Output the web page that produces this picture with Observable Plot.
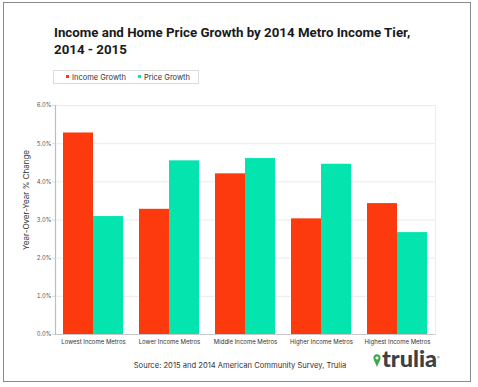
<!DOCTYPE html>
<html>
<head>
<meta charset="utf-8">
<script src="https://cdn.jsdelivr.net/npm/d3@7"></script>
<script src="https://cdn.jsdelivr.net/npm/@observablehq/plot@0.6"></script>
<style>
  html, body { margin: 0; padding: 0; background: #fff; }
  #page { position: relative; width: 478px; height: 387px; overflow: hidden; font-family: Inter, "Liberation Sans", sans-serif; }
  #border { position: absolute; left: 3px; top: 2px; width: 466px; height: 378px; border: 1.5px solid #8a8a8a; }
  #title { position: absolute; left: 54px; top: 25px; font-size: 13.3px; font-weight: 700; line-height: 16.5px; color: #1a1a1a; font-family: Roboto, sans-serif; white-space: nowrap; }
  #legend { position: absolute; left: 53px; top: 70px; width: 144px; height: 12px; border: 1px solid #dcdcdc; font-size: 7.5px; color: #333; }
  #legend .item { position: absolute; top: 1.5px; white-space: nowrap; }
  #legend .sw { display: inline-block; width: 3px; height: 3px; margin-right: 3px; vertical-align: 1.5px; }
  #chart { position: absolute; left: 0; top: 95px; }
  #source { position: absolute; left: 0; width: 480px; top: 361px; text-align: center; font-size: 7.6px; color: #333; }
  #logo { position: absolute; left: 373px; top: 349px; height: 26px; width: 80px; }
  #logo svg { position: absolute; left: 0; top: 4px; }
  #logo span { position: absolute; left: 9px; top: -5px; font-size: 23.5px; font-weight: 900; color: #3b4144; font-family: Lato, sans-serif; }
  #logo sup { position: absolute; left: 64px; top: 6px; font-size: 4px; color: #666; }
</style>
</head>
<body>
<div id="page">
  <div id="border"></div>
  <div id="title">Income and Home Price Growth by 2014 Metro Income Tier,<br>2014 - 2015</div>
  <div id="legend"></div>
  <div id="chart"></div>
  <div id="source">Source: 2015 and 2014 American Community Survey, Trulia</div>
  <div id="logo">
    <svg width="8" height="16" viewBox="0 0 9 16"><path d="M4.5 0.5 C2 0.5 0.5 2.3 0.5 4.6 C0.5 7.5 4.5 12.5 4.5 15.5 C4.5 12.5 8.5 7.5 8.5 4.6 C8.5 2.3 7 0.5 4.5 0.5 Z M4.5 2.8 A1.7 1.7 0 1 1 4.49 2.8 Z" fill="#3ba84a" fill-rule="evenodd"/></svg>
    <span>trulia</span><sup>®</sup>
  </div>
</div>
<script>
const categories = ["Lowest Income Metros", "Lower Income Metros", "Middle Income Metros", "Higher Income Metros", "Highest Income Metros"];
const seriesNames = ["Income Growth", "Price Growth"];
const incomeGrowth = [5.28, 3.28, 4.21, 3.03, 3.43];
const priceGrowth = [3.09, 4.55, 4.61, 4.46, 2.67];
const yTicks = [0, 1, 2, 3, 4, 5, 6];
const seriesColors = ["#fc3a0e", "#03e4ae"];
const yLabel = "Year-Over-Year % Change";

const rows = [];
categories.forEach((c, i) => {
  rows.push({category: c, series: seriesNames[0], value: incomeGrowth[i]});
  rows.push({category: c, series: seriesNames[1], value: priceGrowth[i]});
});

// legend
const legend = document.getElementById("legend");
const legendX = [12, 84];
seriesNames.forEach((s, i) => {
  const it = document.createElement("div");
  it.className = "item";
  it.style.left = legendX[i] + "px";
  it.innerHTML = `<span class="sw" style="background:${seriesColors[i]}"></span>${s}`;
  legend.appendChild(it);
});

const chart = Plot.plot({
  width: 478,
  height: 259,
  marginLeft: 54,
  marginRight: 42,
  marginTop: 10,
  marginBottom: 20,
  style: {fontFamily: "Inter, 'Liberation Sans', sans-serif", background: "transparent"},
  fx: {domain: categories, padding: 0, label: null},
  x: {domain: seriesNames, paddingInner: 0, paddingOuter: 0.245, axis: null},
  y: {domain: [0, 6], label: null},
  color: {domain: seriesNames, range: seriesColors},
  marks: [
    Plot.gridY(yTicks, {stroke: "#ebebeb", strokeOpacity: 1}),
    Plot.barY(rows, {fx: "category", x: "series", y: "value", fill: "series"}),
    Plot.ruleY([0], {stroke: "#c8c8c8"}),
    Plot.frame({anchor: "left", facetAnchor: "left", stroke: "#bdbdbd", strokeWidth: 1.2}),
    Plot.frame({anchor: "right", facetAnchor: "right", stroke: "#ececec"}),
    Plot.axisY(yTicks, {tickFormat: d => d.toFixed(1) + "%", tickSize: 3, tickPadding: 1, fontSize: 5.8, color: "#555", stroke: "#ddd", label: null}),
    Plot.axisFx({anchor: "bottom", tickSize: 0, tickPadding: 5, fontSize: 6, fill: "#333", label: null}),
    Plot.text([yLabel], {frameAnchor: "left", facetAnchor: "left", textAnchor: "middle", rotate: -90, dx: -29, dy: -20, fontSize: 8, fill: "#333"})
  ]
});
document.getElementById("chart").appendChild(chart);
</script>
</body>
</html>
